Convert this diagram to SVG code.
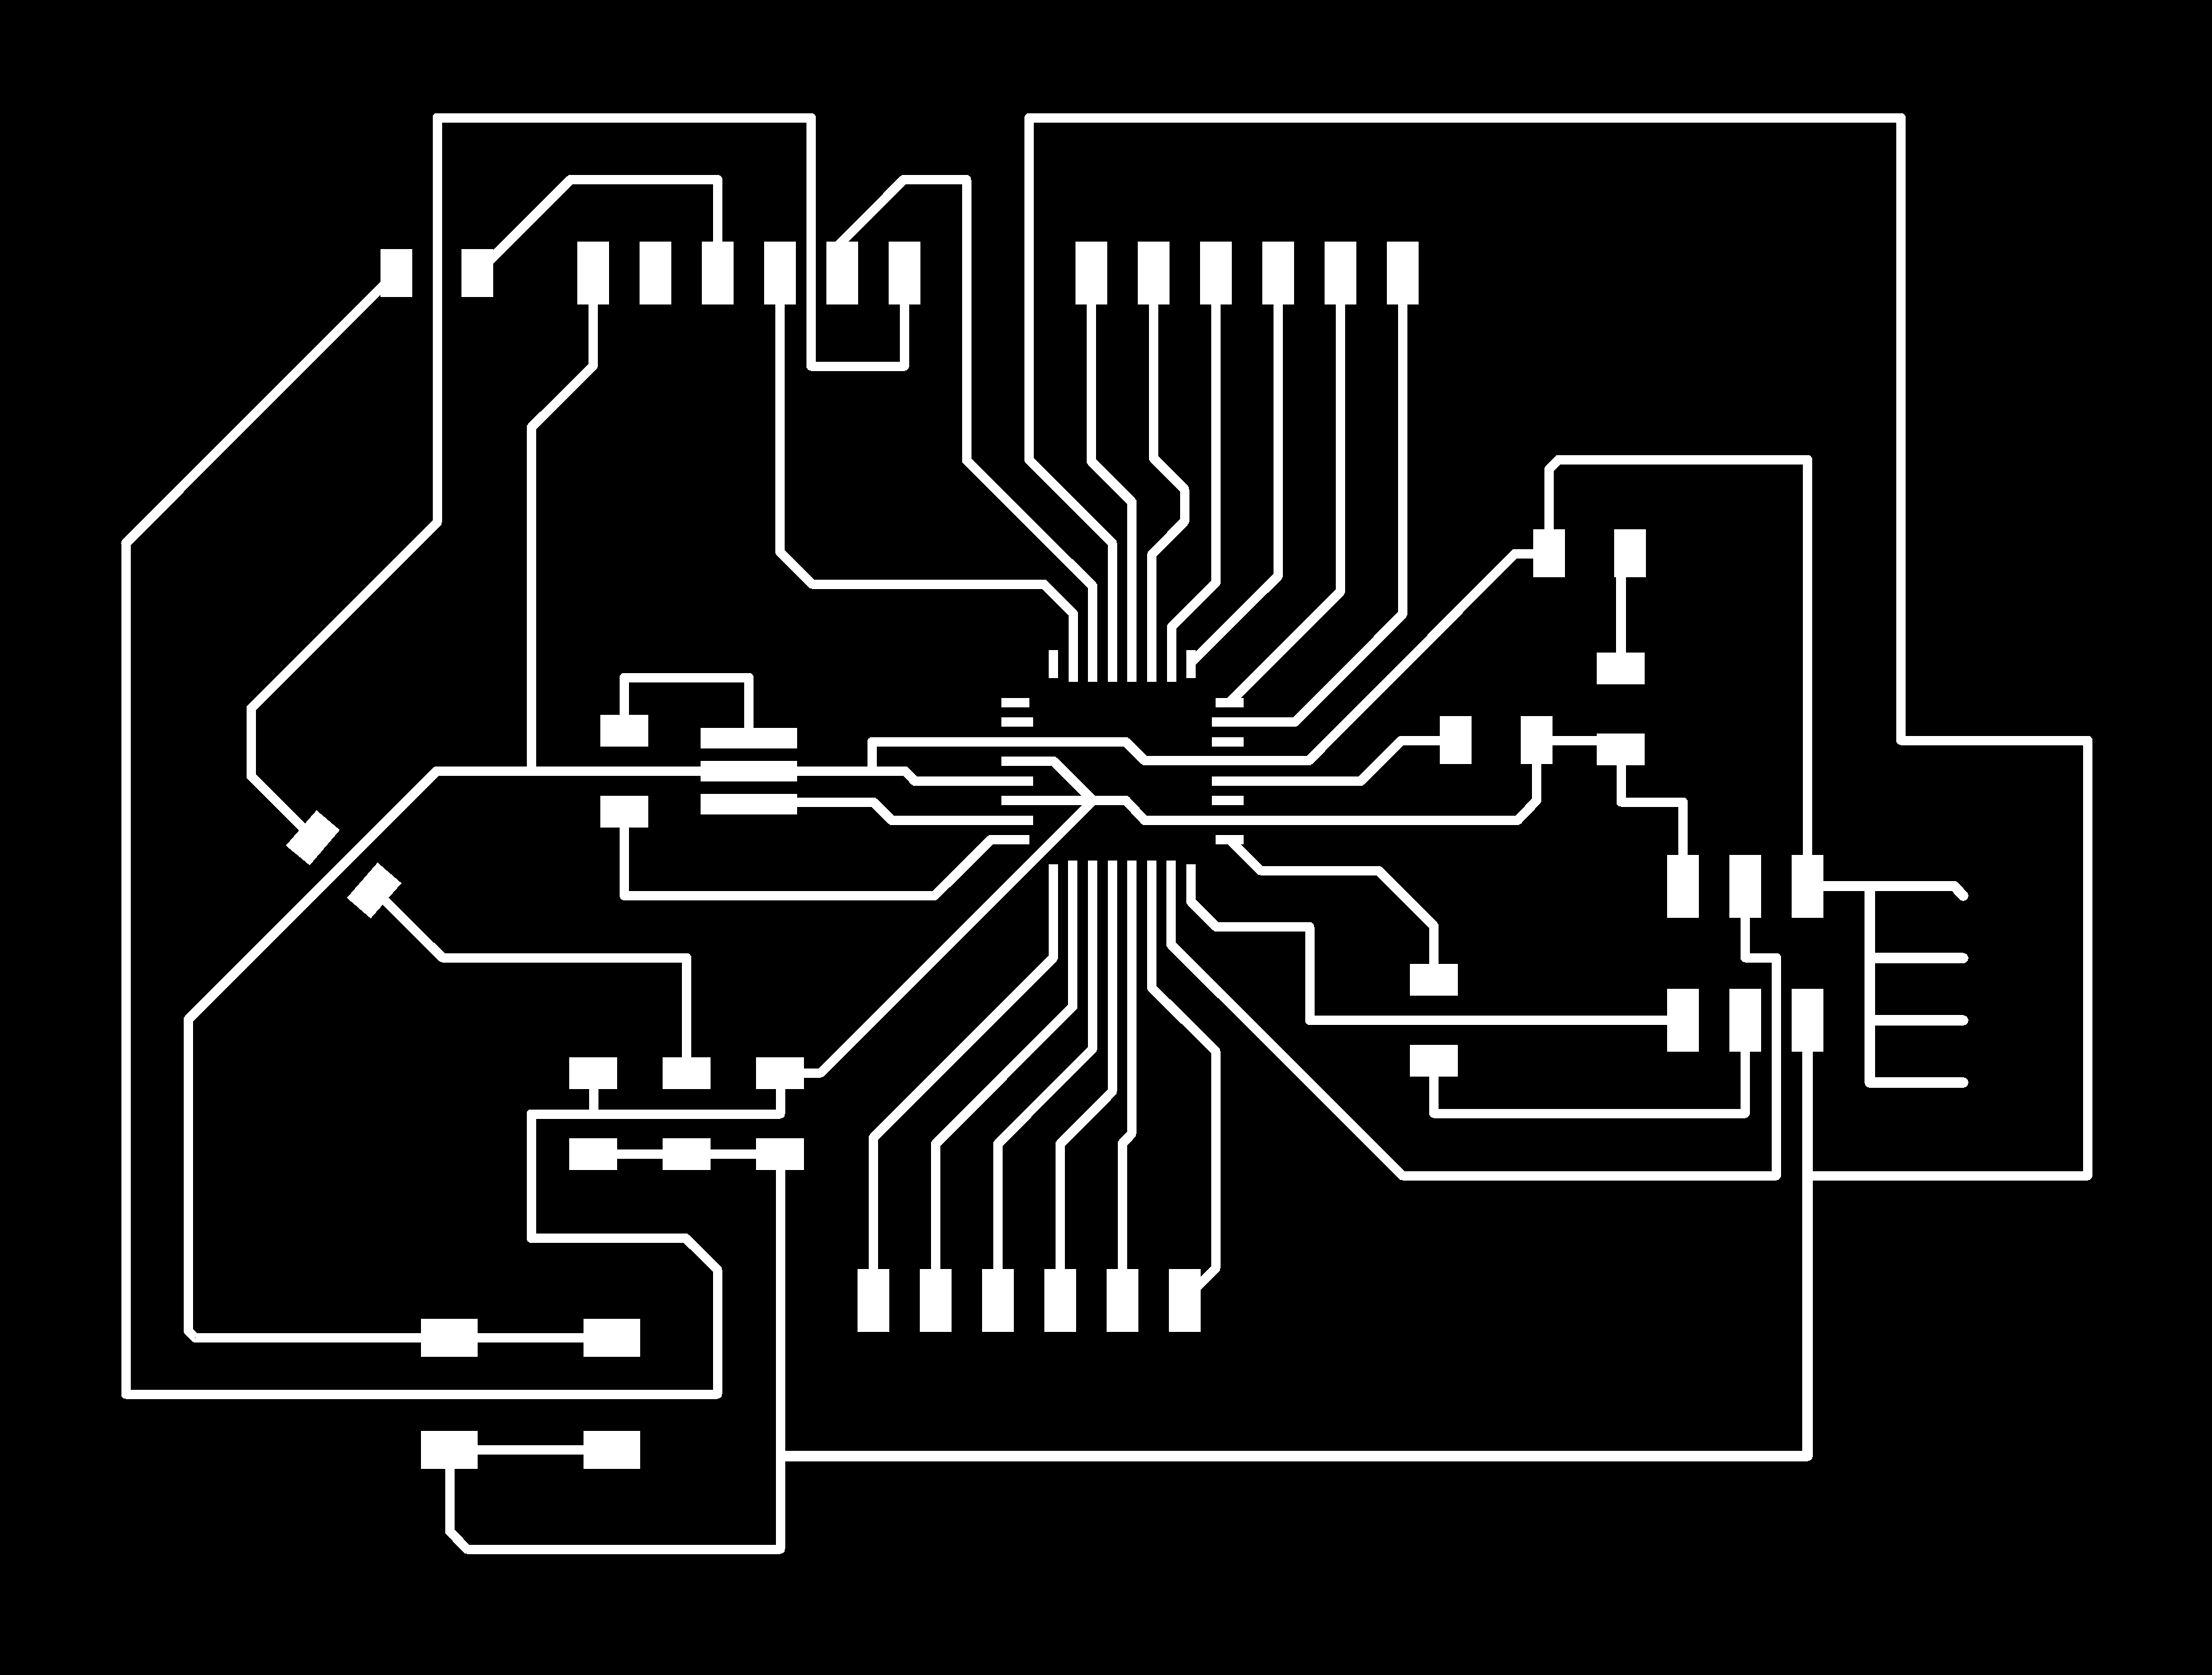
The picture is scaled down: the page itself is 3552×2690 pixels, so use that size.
<svg xmlns="http://www.w3.org/2000/svg" width="3552" height="2690" viewBox="0 0 3552 2690" shape-rendering="crispEdges">
<style>
.pad{fill:#fff;stroke:none}
.t{fill:none;stroke:#fff;stroke-width:15;stroke-linejoin:round;stroke-linecap:butt}
.w{stroke-width:17}
.c{stroke-width:16.5;stroke-linecap:round}
</style>
<rect id="board" x="0" y="0" width="3552" height="2690" fill="#000"/>
<g id="connectors">
<path class="t" d="M625,449 L202,872.5 L202,2239 L1152,2239 L1152,2039 L1101,1988.5 L853,1988.5 L853,1789 L1253,1789 L1253,1749"/>
<path class="t" d="M953,1749 L953,1789"/>
<path class="t" d="M1659,1254.5 L1469,1254.5 L1453,1238 L701.5,1238 L302.5,1637 L302.5,2137.5 L313.5,2148.5 L1028,2148.5"/>
<path class="t" d="M853,1238 L853,686.6 L952.8,587 L952.8,489"/>
<path class="t" d="M495,1338 L403,1246 L403,1138 L702,839 L702,189 L1302.5,189 L1302.5,588 L1452.5,588 L1452.5,489"/>
<path class="t" d="M780,424.5 L916,288.5 L1152.5,288.5 L1152.5,388"/>
<path class="t" d="M1340,400 L1451,288.5 L1552,288.5 L1552,739 L1754.5,941 L1754.5,1095"/>
<path class="t" d="M1252.5,489 L1252.5,886.5 L1304,938 L1676,938 L1723.5,985.5 L1723.5,1095"/>
<path class="t" d="M1786,1095 L1786,872 L1652.7,739 L1652.7,189 L3052.5,189 L3052.5,1189 L3352.5,1189 L3352.5,1888 L2903,1888"/>
<path class="t" d="M1752.5,489 L1752.5,741 L1817.5,806 L1817.5,1095"/>
<path class="t" d="M1852.5,489 L1852.5,736 L1902,785.5 L1902,837.5 L1849.8,890 L1849.8,1095"/>
<path class="t" d="M1952.5,489 L1952.5,935.7 L1881,1007.4 L1881,1095"/>
<path class="t" d="M2052.5,489 L2052.5,925 L1915,1062"/>
<path class="t" d="M2152.5,489 L2152.5,950 L1980,1122.5 L1973,1129.5"/>
<path class="t" d="M2252.5,489 L2252.5,986 L2079.5,1159.5 L1946,1159.5"/>
<path class="t" d="M1002.5,1148 L1002.5,1088 L1202.5,1088 L1202.5,1169"/>
<path class="t" d="M1002.5,1329 L1002.5,1438.4 L1501,1438.4 L1591,1348.5 L1653,1348.5"/>
<path class="t" d="M1280,1288.4 L1403,1288.4 L1432,1317.5 L1659,1317.5"/>
<path class="t" d="M1400,1238 L1400,1191.5 L1808,1191.5 L1838,1221.5 L2102,1221.5 L2433,889 L2462,889"/>
<path class="t" d="M2487.5,850 L2487.5,753.5 L2503,738 L2902.5,738 L2902.5,1373"/>
<path class="t" d="M1608,1222.5 L1692,1222.5 L1755,1285.5"/>
<path class="t" d="M1608,1285.5 L1808,1285.5 L1838,1317.5 L2437,1317.5 L2467.5,1285.5 L2467.5,1227"/>
<path class="t" d="M1291,1723 L1318,1723 L1755.5,1285.5"/>
<path class="t" d="M1946,1254.5 L2185,1254.5 L2250.5,1189 L2312,1189"/>
<path class="t" d="M2493,1189 L2564,1189"/>
<path class="t" style="stroke-width:16" d="M2603,927 L2603,1048"/>
<path class="t" d="M2603,1229 L2603,1288 L2702.5,1288 L2702.5,1373"/>
<path class="t" d="M2677,1638.5 L2103,1638.5 L2103,1488.5 L1953,1488.5 L1912.5,1448 L1912.5,1388"/>
<path class="t" d="M1880.5,1382 L1880.5,1517 L2252,1888 L2852.5,1888 L2852.5,1538 L2802.5,1538 L2802.5,1473"/>
<path class="t" d="M2802.5,1689 L2802.5,1788 L2302.5,1788 L2302.5,1728"/>
<path class="t" d="M2302.5,1599 L2302.5,1487 L2213.5,1398 L2024,1398 L1974.5,1348.5"/>
<path class="t" d="M1691.4,1388 L1691.4,1538 L1402.5,1827 L1402.5,2038"/>
<path class="t" d="M1722.7,1382 L1722.7,1616.6 L1502.5,1837 L1502.5,2038"/>
<path class="t" d="M1754.2,1382 L1754.2,1685 L1602.5,1837 L1602.5,2038"/>
<path class="t" d="M1786,1382 L1786,1753.4 L1702.5,1837 L1702.5,2038"/>
<path class="t" d="M1817,1382 L1817,1821.4 L1802.5,1836 L1802.5,2038"/>
<path class="t" d="M1849.6,1382 L1849.6,1586.4 L1952,1688 L1952,2037 L1915,2074"/>
<path class="t" d="M991,1853.5 L1214,1853.5"/>
<path class="t" d="M610,1438 L710.5,1538 L1102.5,1538 L1102.5,1698"/>
<path class="t" d="M1253,1879 L1253,2488 L750,2488 L722,2459 L722,2359"/>
<path class="t w" d="M2902.5,1689 L2902.5,2338 L1253,2338"/>
<path class="t" d="M767,2148.5 L937,2148.5"/>
<path class="t" d="M767,2328 L937,2328"/>
<path class="t c" d="M2928,1423 L3138,1423 L3152.5,1438.5"/>
<path class="t c" d="M3002.5,1423 L3002.5,1738.5 L3152.5,1738.5"/>
<path class="t c" d="M3002.5,1538.7 L3152.5,1538.7"/>
<path class="t c" d="M3002.5,1638.6 L3152.5,1638.6"/>
</g>
<g id="header-top-1"><rect class="pad" x="927" y="388" width="51" height="101"/></g>
<g id="header-top-2"><rect class="pad" x="1027" y="388" width="51" height="101"/></g>
<g id="header-top-3"><rect class="pad" x="1127" y="388" width="51" height="101"/></g>
<g id="header-top-4"><rect class="pad" x="1227" y="388" width="51" height="101"/></g>
<g id="header-top-5"><rect class="pad" x="1327" y="388" width="51" height="101"/></g>
<g id="header-top-6"><rect class="pad" x="1427" y="388" width="51" height="101"/></g>
<g id="header-top-7"><rect class="pad" x="1727" y="388" width="51" height="101"/></g>
<g id="header-top-8"><rect class="pad" x="1827" y="388" width="51" height="101"/></g>
<g id="header-top-9"><rect class="pad" x="1927" y="388" width="51" height="101"/></g>
<g id="header-top-10"><rect class="pad" x="2027" y="388" width="51" height="101"/></g>
<g id="header-top-11"><rect class="pad" x="2127" y="388" width="51" height="101"/></g>
<g id="header-top-12"><rect class="pad" x="2227" y="388" width="51" height="101"/></g>
<g id="small-1"><rect class="pad" x="611" y="400" width="51" height="77"/></g>
<g id="small-2"><rect class="pad" x="741" y="400" width="51" height="77"/></g>
<g id="header-bottom-1"><rect class="pad" x="1377" y="2038" width="51" height="101"/></g>
<g id="header-bottom-2"><rect class="pad" x="1477" y="2038" width="51" height="101"/></g>
<g id="header-bottom-3"><rect class="pad" x="1577" y="2038" width="51" height="101"/></g>
<g id="header-bottom-4"><rect class="pad" x="1677" y="2038" width="51" height="101"/></g>
<g id="header-bottom-5"><rect class="pad" x="1777" y="2038" width="51" height="101"/></g>
<g id="header-bottom-6"><rect class="pad" x="1877" y="2038" width="51" height="101"/></g>
<g id="right-1"><rect class="pad" x="2462" y="850" width="51" height="77"/></g>
<g id="right-2"><rect class="pad" x="2592" y="850" width="51" height="77"/></g>
<g id="right-3"><rect class="pad" x="2564" y="1048" width="77" height="51"/></g>
<g id="right-4"><rect class="pad" x="2312" y="1150" width="51" height="77"/></g>
<g id="right-5"><rect class="pad" x="2442" y="1150" width="51" height="77"/></g>
<g id="right-6"><rect class="pad" x="2564" y="1178" width="77" height="51"/></g>
<g id="isp-1"><rect class="pad" x="2677" y="1373" width="51" height="101"/></g>
<g id="isp-2"><rect class="pad" x="2777" y="1373" width="51" height="101"/></g>
<g id="isp-3"><rect class="pad" x="2877" y="1373" width="51" height="101"/></g>
<g id="isp-4"><rect class="pad" x="2677" y="1588" width="51" height="101"/></g>
<g id="isp-5"><rect class="pad" x="2777" y="1588" width="51" height="101"/></g>
<g id="isp-6"><rect class="pad" x="2877" y="1588" width="51" height="101"/></g>
<g id="r-a"><rect class="pad" x="2264" y="1548" width="77" height="51"/></g>
<g id="r-b"><rect class="pad" x="2264" y="1678" width="77" height="51"/></g>
<g id="cap-a"><rect class="pad" x="964" y="1148" width="77" height="51"/></g>
<g id="cap-b"><rect class="pad" x="964" y="1278" width="77" height="51"/></g>
<g id="xtal-1"><rect class="pad" x="1125" y="1169" width="155" height="33"/></g>
<g id="xtal-2"><rect class="pad" x="1125" y="1222" width="155" height="33"/></g>
<g id="xtal-3"><rect class="pad" x="1125" y="1275" width="155" height="33"/></g>
<g id="row-a1"><rect class="pad" x="914" y="1698" width="77" height="51"/></g>
<g id="row-a2"><rect class="pad" x="1064" y="1698" width="77" height="51"/></g>
<g id="row-a3"><rect class="pad" x="1214" y="1698" width="77" height="51"/></g>
<g id="row-b1"><rect class="pad" x="914" y="1828" width="77" height="51"/></g>
<g id="row-b2"><rect class="pad" x="1064" y="1828" width="77" height="51"/></g>
<g id="row-b3"><rect class="pad" x="1214" y="1828" width="77" height="51"/></g>
<g id="led-a1"><rect class="pad" x="676" y="2118" width="91" height="61"/></g>
<g id="led-a2"><rect class="pad" x="937" y="2118" width="91" height="61"/></g>
<g id="led-b1"><rect class="pad" x="676" y="2298" width="91" height="61"/></g>
<g id="led-b2"><rect class="pad" x="937" y="2298" width="91" height="61"/></g>
<g id="diag-1"><polygon class="pad" points="508.3,1301.3 545.7,1333 497.3,1389.7 459,1358"/></g>
<g id="diag-2"><polygon class="pad" points="606.3,1385.3 644.7,1418.3 595.3,1475 557,1442"/></g>
<g id="chip-top-1"><rect class="pad" x="1684" y="1044" width="15" height="45"/></g>
<g id="chip-top-8"><rect class="pad" x="1905" y="1044" width="15" height="45"/></g>
<g id="chip-left-1"><rect class="pad" x="1608" y="1121" width="45" height="15"/></g>
<g id="chip-left-2"><rect class="pad" x="1608" y="1152" width="51" height="15"/></g>
<g id="chip-right-1"><rect class="pad" x="1952" y="1121" width="45" height="15"/></g>
<g id="chip-right-2"><rect class="pad" x="1946" y="1152" width="51" height="15"/></g>
<g id="chip-right-3"><rect class="pad" x="1946" y="1184" width="51" height="15"/></g>
<g id="chip-right-6"><rect class="pad" x="1946" y="1278" width="51" height="15"/></g>
<g id="chip-right-8"><rect class="pad" x="1952" y="1341" width="45" height="15"/></g>
</svg>
